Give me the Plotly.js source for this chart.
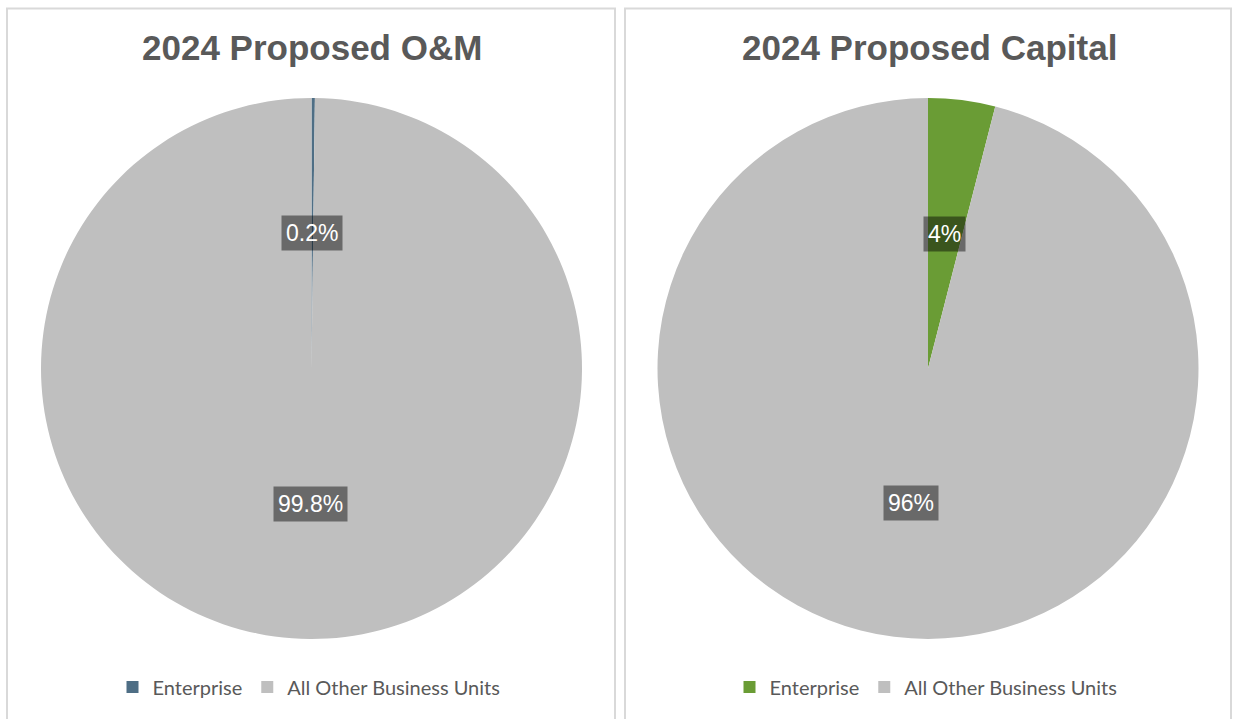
<!DOCTYPE html>
<html><head><meta charset="utf-8">
<script src="https://cdn.plot.ly/plotly-3.0.1.min.js"></script>
<style>html,body{margin:0;padding:0;background:#fff;}
.chart{position:absolute;left:0;top:0;width:1233px;height:719px;}</style>
</head><body><div id="chart1" class="chart"></div><div id="chart2" class="chart"></div>
<script>
// ---- data ----
const labels = ['Enterprise', 'All Other Business Units'];
const omTitle = '2024 Proposed O&M';
const omValues = [0.2, 99.8];
const capTitle = '2024 Proposed Capital';
const capValues = [4, 96];

// ---- styling / layout ----
const W = 1233, H = 719;
const omColors = ['#4e6e85', '#bfbfbf'];
const capColors = ['#6a9c35', '#bfbfbf'];
const panels = [{x0: 7, x1: 615}, {x0: 625, x1: 1231}];
const pieGeo = [{cx: 311.5, cy: 368.5, r: 270.5}, {cx: 928, cy: 368.5, r: 270.5}];
const legendPos = [{x: 309, y: 687}, {x: 926, y: 687}];
const titleY = 47;

function px2x(x){ return x / W; }
function px2y(y){ return 1 - y / H; }
function fmtPct(v, tot){ const p = Math.round(v / tot * 1000) / 10; return p + '%'; }

const series = [
  {div: 'chart1', title: omTitle, values: omValues, colors: omColors},
  {div: 'chart2', title: capTitle, values: capValues, colors: capColors}
];

series.forEach((s, k) => {
  const g = pieGeo[k];
  const p = panels[k];
  const annotations = [], shapes = [];
  const data = [{
    type: 'pie', labels: labels, values: s.values, sort: false, direction: 'clockwise', rotation: 0,
    marker: {colors: s.colors, line: {width: 0}}, textinfo: 'none', hoverinfo: 'label+percent',
    domain: {x: [px2x(g.cx - g.r), px2x(g.cx + g.r)], y: [px2y(g.cy + g.r), px2y(g.cy - g.r)]},
    showlegend: true
  }];
  const tot = s.values.reduce((a, b) => a + b, 0);
  let cum = 0;
  s.values.forEach(v => {
    const mid = (cum + v / 2) / tot; cum += v;
    const th = mid * 2 * Math.PI;
    const x = g.cx + 0.5 * g.r * Math.sin(th), y = g.cy - 0.5 * g.r * Math.cos(th);
    annotations.push({
      xref: 'paper', yref: 'paper', x: px2x(x), y: px2y(y), xanchor: 'center', yanchor: 'middle',
      text: fmtPct(v, tot), showarrow: false,
      font: {family: 'Liberation Sans, Arial, sans-serif', size: 23, color: '#ffffff'},
      bgcolor: 'rgba(0,0,0,0.45)', borderpad: 4
    });
  });
  annotations.push({
    xref: 'paper', yref: 'paper', x: px2x((p.x0 + p.x1) / 2 + 1), y: px2y(titleY), xanchor: 'center', yanchor: 'middle',
    text: '<b>' + s.title.replace('&', '&amp;') + '</b>', showarrow: false,
    font: {family: 'Liberation Sans, Arial, sans-serif', size: 35, color: '#595959'}
  });
  shapes.push({type: 'rect', xref: 'paper', yref: 'paper', x0: px2x(p.x0), x1: px2x(p.x1), y0: -0.05, y1: px2y(8.5),
    line: {color: '#d9d9d9', width: 2}, fillcolor: 'rgba(0,0,0,0)', layer: 'below'});

  const layout = {
    width: W, height: H, margin: {l: 0, r: 0, t: 0, b: 0},
    paper_bgcolor: 'rgba(0,0,0,0)', plot_bgcolor: 'rgba(0,0,0,0)',
    annotations: annotations, shapes: shapes,
    legend: {orientation: 'h', xanchor: 'center', yanchor: 'middle', bgcolor: 'rgba(0,0,0,0)',
      x: px2x(legendPos[k].x), y: px2y(legendPos[k].y), traceorder: 'normal',
      font: {family: 'Lato, Carlito, Calibri, sans-serif', size: 20, color: '#595959'}}
  };
  Plotly.newPlot(s.div, data, layout, {displayModeBar: false, staticPlot: true});
});
</script>
</body></html>
